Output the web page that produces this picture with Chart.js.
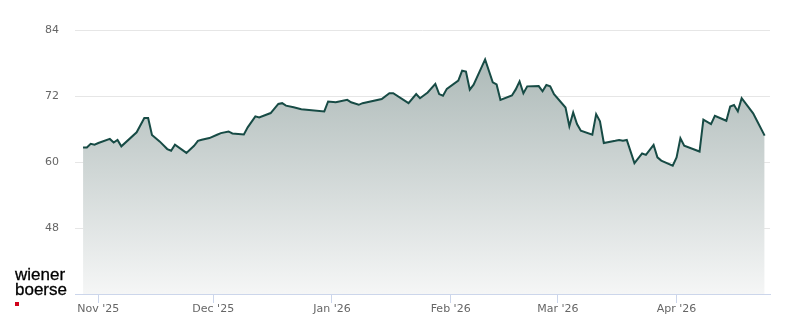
<!DOCTYPE html>
<html>
<head>
<meta charset="utf-8">
<script src="https://cdn.jsdelivr.net/npm/chart.js@4.4.1/dist/chart.umd.min.js"></script>
<style>
    body { margin: 0; background: #ffffff; }
    #wrap { position: relative; width: 800px; height: 324px; }
    #logo {
        position: absolute; left: 15px; top: 267px;
        font-family: 'Liberation Sans', Arial, sans-serif;
        font-size: 17px; line-height: 15px; color: #000000;
        -webkit-text-stroke: 0.3px #000000;
    }
    #logo .dot { width: 4px; height: 4px; background: #d0021b; margin-top: 5px; }
</style>
</head>
<body>
<div id="wrap">
    <canvas id="priceChart" width="800" height="324"></canvas>
    <div id="logo">wiener<br>boerse<div class="dot"></div></div>
</div>
<script>
const dates = [
    '2025-10-28', '2025-10-29', '2025-10-30', '2025-10-31',
    '2025-11-01', '2025-11-04', '2025-11-05', '2025-11-06', '2025-11-07', '2025-11-11', '2025-11-13', '2025-11-14', '2025-11-15',
    '2025-11-17', '2025-11-19', '2025-11-20', '2025-11-21', '2025-11-24', '2025-11-26', '2025-11-27', '2025-11-28', '2025-11-30',
    '2025-12-02', '2025-12-03', '2025-12-05', '2025-12-06', '2025-12-09', '2025-12-10', '2025-12-12', '2025-12-13',
    '2025-12-16', '2025-12-18', '2025-12-19', '2025-12-20', '2025-12-22', '2025-12-24', '2025-12-30', '2025-12-31',
    '2026-01-02', '2026-01-05', '2026-01-06', '2026-01-08', '2026-01-09', '2026-01-14', '2026-01-16', '2026-01-17',
    '2026-01-21', '2026-01-23', '2026-01-24', '2026-01-26', '2026-01-28', '2026-01-29', '2026-01-30', '2026-01-31',
    '2026-02-03', '2026-02-04', '2026-02-05', '2026-02-06', '2026-02-07', '2026-02-10', '2026-02-12', '2026-02-13', '2026-02-14',
    '2026-02-17', '2026-02-18', '2026-02-19', '2026-02-20', '2026-02-21', '2026-02-24', '2026-02-25', '2026-02-26', '2026-02-27', '2026-02-28',
    '2026-03-03', '2026-03-04', '2026-03-05', '2026-03-06', '2026-03-07', '2026-03-10', '2026-03-11', '2026-03-12', '2026-03-13',
    '2026-03-16', '2026-03-17', '2026-03-18', '2026-03-19', '2026-03-21', '2026-03-23', '2026-03-24', '2026-03-26', '2026-03-27',
    '2026-03-28', '2026-03-31',
    '2026-04-01', '2026-04-02', '2026-04-03', '2026-04-07', '2026-04-08', '2026-04-10', '2026-04-11', '2026-04-14', '2026-04-15',
    '2026-04-16', '2026-04-17', '2026-04-18', '2026-04-21', '2026-04-22', '2026-04-24'
];

const prices = [
    62.65, 62.65, 63.3, 63.15,
    63.45, 64.2, 63.55, 64.0, 62.85, 65.4, 68.0, 68.0, 64.9,
    63.75, 62.35, 62.05, 63.15, 61.65, 62.95, 63.85, 64.05, 64.35,
    64.95, 65.25, 65.55, 65.2, 65.0, 66.3, 68.3, 68.1,
    68.9, 70.55, 70.7, 70.25, 69.95, 69.6, 69.2, 71.0,
    70.85, 71.3, 70.85, 70.4, 70.7, 71.45, 72.5, 72.5,
    70.7, 72.35, 71.6, 72.65, 74.2, 72.35, 72.05, 73.3,
    74.8, 76.6, 76.45, 73.15, 74.05, 78.65, 74.5, 74.1, 71.3,
    72.1, 73.2, 74.65, 72.5, 73.75, 73.8, 72.85, 74.0, 73.75, 72.35,
    69.9, 66.5, 69.0, 66.9, 65.7, 64.95, 68.7, 67.4, 63.45,
    63.85, 64.0, 63.85, 64.0, 59.8, 61.55, 61.3, 63.1, 60.85,
    60.25, 59.35,
    60.85, 64.3, 62.95, 61.9, 67.7, 66.9, 68.4, 67.5, 70.1,
    70.35, 69.2, 71.6, 68.85, 67.5, 64.8
];

const monthTicks = ['2025-11-01', '2025-12-01', '2026-01-01', '2026-02-01', '2026-03-01', '2026-04-01'];
const monthLabels = ["Nov '25", "Dec '25", "Jan '26", "Feb '26", "Mar '26", "Apr '26"];

const yTicks = [36, 48, 60, 72, 84];

// days counted from 1 Nov 2025, so the x axis stays linear without a date adapter
const DAY = 86400000;
const base = Date.parse('2025-11-01');
const toDay = (s) => (Date.parse(s) - base) / DAY;

const points = dates.map((d, i) => ({ x: toDay(d), y: prices[i] }));
const tickDays = monthTicks.map(toDay);

const ctx = document.getElementById('priceChart').getContext('2d');

const chart = new Chart(ctx, {
    type: 'line',
    data: {
        datasets: [{
            data: points,
            borderColor: '#174b45',
            borderWidth: 2,
            pointRadius: 0,
            tension: 0,
            fill: 'start',
            backgroundColor: (context) => {
                const area = context.chart.chartArea;
                if (!area) return 'rgba(170, 182, 180, 0.8)';
                const g = context.chart.ctx.createLinearGradient(0, area.top, 0, area.bottom);
                g.addColorStop(0, '#a4b2b0');
                g.addColorStop(1, '#f5f6f6');
                return g;
            }
        }]
    },
    options: {
        responsive: false,
        animation: false,
        events: [],
        layout: {
            padding: { top: 30, right: 30, left: 0, bottom: 0 }
        },
        plugins: {
            legend: { display: false },
            tooltip: { enabled: false }
        },
        scales: {
            x: {
                type: 'linear',
                min: -6.1,
                max: 175.4,
                afterFit: (scale) => { scale.height = 30; },
                afterBuildTicks: (scale) => {
                    scale.ticks = tickDays.map(v => ({ value: v }));
                },
                ticks: {
                    autoSkip: false,
                    maxRotation: 0,
                    padding: 0,
                    color: '#666666',
                    font: { family: 'DejaVu Sans', size: 11 },
                    callback: (value) => {
                        const i = tickDays.indexOf(value);
                        return i >= 0 ? monthLabels[i] : '';
                    }
                },
                grid: {
                    drawOnChartArea: false,
                    drawTicks: true,
                    tickLength: 9,
                    color: '#ccd6eb'
                },
                border: {
                    display: true,
                    color: '#ccd6eb',
                    width: 1
                }
            },
            y: {
                min: 36,
                max: 84,
                afterFit: (scale) => { scale.width = 75; },
                afterBuildTicks: (scale) => {
                    scale.ticks = yTicks.map(v => ({ value: v }));
                },
                ticks: {
                    padding: 16,
                    color: '#666666',
                    font: { family: 'DejaVu Sans', size: 11 },
                    callback: (value) => value === 36 ? '' : String(value)
                },
                grid: {
                    drawTicks: false,
                    color: (c) => c.tick && c.tick.value === 36 ? 'rgba(0,0,0,0)' : '#e6e6e6'
                },
                border: { display: false }
            }
        }
    }
});
</script>
</body>
</html>
